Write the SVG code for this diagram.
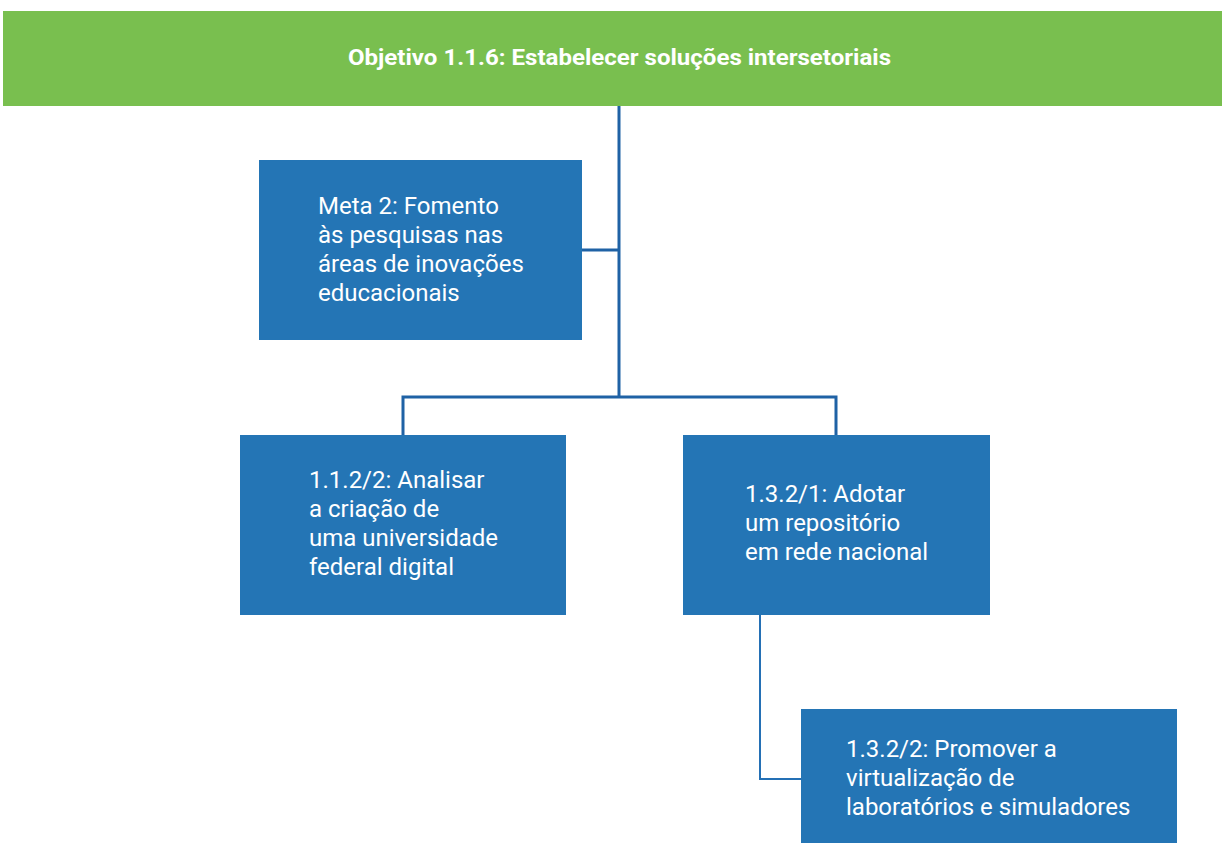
<svg xmlns="http://www.w3.org/2000/svg" width="1222" height="843" viewBox="0 0 1222 843">
<style>
.box{fill:#2475b5}
.t{font-family:Roboto,"Liberation Sans",sans-serif;font-size:24px;fill:#ffffff}
.title{font-family:Roboto,"Liberation Sans",sans-serif;font-size:22.5px;font-weight:bold;fill:#ffffff}
.c{fill:none;stroke:#1f62a5;stroke-width:3}
.c2{fill:none;stroke:#2470b5;stroke-width:2}
</style>
<rect width="1222" height="843" fill="#ffffff"/>
<g id="connectors">
<path class="c" d="M619,105 V397"/>
<path class="c" d="M582,250 H619"/>
<path class="c" d="M403,435 V397 H836 V435"/>
<path class="c2" d="M760,615 V779 H801"/>
</g>
<g id="objetivo">
<rect x="3" y="11" width="1219" height="95" fill="#79bf4f"/>
<text class="title" x="619.5" y="65" text-anchor="middle" textLength="543" lengthAdjust="spacingAndGlyphs">Objetivo 1.1.6: Estabelecer soluções intersetoriais</text>
</g>
<g id="meta2">
<rect class="box" x="259" y="160" width="323" height="180"/>
<text class="t" x="318" y="214">Meta 2: Fomento</text>
<text class="t" x="318" y="243">às pesquisas nas</text>
<text class="t" x="318" y="272">áreas de inovações</text>
<text class="t" x="318" y="301">educacionais</text>
</g>
<g id="n112">
<rect class="box" x="240" y="435" width="326" height="180"/>
<text class="t" x="309" y="488">1.1.2/2: Analisar</text>
<text class="t" x="309" y="517">a criação de</text>
<text class="t" x="309" y="546">uma universidade</text>
<text class="t" x="309" y="575">federal digital</text>
</g>
<g id="n1321">
<rect class="box" x="683" y="435" width="307" height="180"/>
<text class="t" x="745" y="502">1.3.2/1: Adotar</text>
<text class="t" x="745" y="531">um repositório</text>
<text class="t" x="745" y="560">em rede nacional</text>
</g>
<g id="n1322">
<rect class="box" x="801" y="709" width="376" height="134"/>
<text class="t" x="846" y="757">1.3.2/2: Promover a</text>
<text class="t" x="846" y="786">virtualização de</text>
<text class="t" x="846" y="815">laboratórios e simuladores</text>
</g>
</svg>
